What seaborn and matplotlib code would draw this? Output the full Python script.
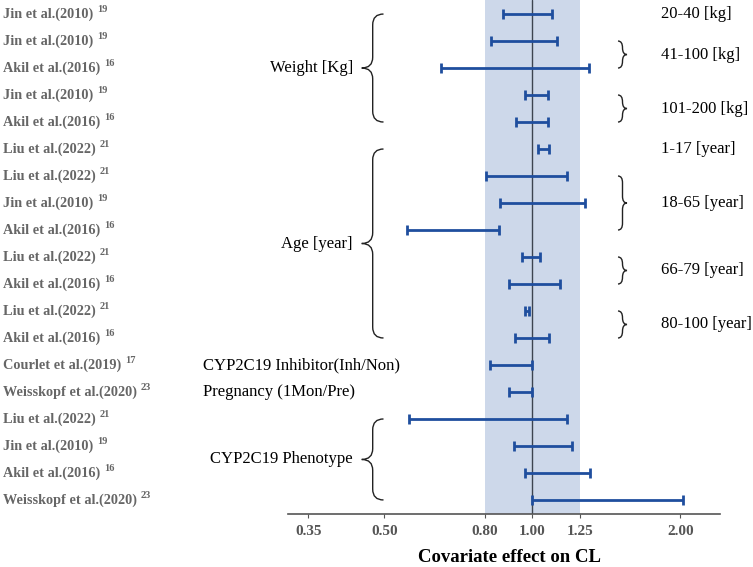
import numpy as np
import pandas as pd
import matplotlib
matplotlib.use("Agg")
import matplotlib.pyplot as plt
import matplotlib.transforms as mtransforms
from matplotlib.path import Path
from matplotlib.patches import PathPatch
import seaborn as sns

# data
studies = ["Jin et al.(2010)", "Jin et al.(2010)", "Akil et al.(2016)", "Jin et al.(2010)",
           "Akil et al.(2016)", "Liu et al.(2022)", "Liu et al.(2022)", "Jin et al.(2010)",
           "Akil et al.(2016)", "Liu et al.(2022)", "Akil et al.(2016)", "Liu et al.(2022)",
           "Akil et al.(2016)", "Courlet et al.(2019)", "Weisskopf et al.(2020)",
           "Liu et al.(2022)", "Jin et al.(2010)", "Akil et al.(2016)", "Weisskopf et al.(2020)"]
refs = ["19", "19", "16", "19", "16", "21", "21", "19", "16", "21", "16", "21", "16",
        "17", "23", "21", "19", "16", "23"]
lower = [0.870, 0.826, 0.653, 0.966, 0.928, 1.029, 0.807, 0.859, 0.556, 0.953,
         0.896, 0.966, 0.923, 0.822, 0.896, 0.562, 0.918, 0.966, 1.000]
upper = [1.097, 1.123, 1.302, 1.078, 1.078, 1.083, 1.177, 1.278, 0.857, 1.035,
         1.140, 0.986, 1.080, 1.000, 1.000, 1.175, 1.205, 1.311, 2.030]

tick_vals = [0.35, 0.50, 0.80, 1.00, 1.25, 2.00]
tick_labels = ["0.35", "0.50", "0.80", "1.00", "1.25", "2.00"]

# groups with a brace on the left: (label, first row, last row)
groups = [("Weight [Kg]", 0, 4), ("Age [year]", 5, 12), ("CYP2C19 Phenotype", 15, 18)]
single_groups = [("CYP2C19 Inhibitor(Inh/Non)", 13), ("Pregnancy (1Mon/Pre)", 14)]
# sub-levels on the right
levels = [("20-40 [kg]", 0, 0), ("41-100 [kg]", 1, 2), ("101-200 [kg]", 3, 4),
          ("1-17 [year]", 5, 5), ("18-65 [year]", 6, 8), ("66-79 [year]", 9, 10),
          ("80-100 [year]", 11, 12)]

df = pd.DataFrame({"study": studies, "ref": refs, "lo": lower, "hi": upper})
df["row"] = np.arange(len(df))

sns.set_theme(style="white")
plt.rcParams["font.family"] = ["Liberation Serif", "DejaVu Serif"]

W, H = 753, 567
fig = plt.figure(figsize=(W / 100, H / 100), dpi=100)
ax = fig.add_axes([288 / W, 53 / H, 432 / W, 514 / H])

bar_col = "#1f4e9e"
ax.axvspan(0.8, 1.25, color="#cdd8ea", zorder=0, lw=0)
ax.axvline(1.0, color="#3d4450", lw=1, zorder=1)

ax.errorbar(df["lo"], df["row"], xerr=[np.zeros(len(df)), df["hi"] - df["lo"]],
            fmt="none", ecolor=bar_col, elinewidth=2, capsize=3.6, capthick=2, zorder=3)

ax.set_xscale("log")
ax.set_xlim(0.3185, 2.409)
ax.set_ylim(18.52, -0.52)
ax.set_xticks(tick_vals)
ax.set_xticklabels(tick_labels)
ax.minorticks_off()
ax.set_yticks([])
ax.tick_params(axis="x", bottom=True, length=3, width=0.8, color="#555555", pad=5,
               labelsize=11, labelcolor="#555555")
for lab in ax.get_xticklabels():
    lab.set_fontweight("bold")
sns.despine(ax=ax, left=True, top=True, right=True)
ax.spines["bottom"].set_color("#555555")
ax.spines["bottom"].set_linewidth(1.2)
ax.set_xlabel("")

fig.text(510 / W, 1 - 557 / H, "Covariate effect on CL", ha="center", va="center",
         fontsize=13.5, fontweight="bold", color="black")

# x in figure pixels, y in data rows
trans = mtransforms.blended_transform_factory(
    mtransforms.Affine2D().scale(1 / W) + fig.transFigure, ax.transData)


def brace(x_tip, x_mid, x_end, y0, y1, r):
    ym = (y0 + y1) / 2
    verts = [(x_end, y0), (x_mid, y0), (x_mid, y0 + r),
             (x_mid, ym - r), (x_mid, ym), (x_tip, ym),
             (x_mid, ym), (x_mid, ym + r),
             (x_mid, y1 - r), (x_mid, y1), (x_end, y1)]
    codes = [Path.MOVETO, Path.CURVE3, Path.CURVE3,
             Path.LINETO, Path.CURVE3, Path.CURVE3,
             Path.CURVE3, Path.CURVE3,
             Path.LINETO, Path.CURVE3, Path.CURVE3]
    p = PathPatch(Path(verts, codes), transform=trans, fill=False, ec="#222222",
                  lw=1.0, clip_on=False)
    ax.add_patch(p)


for name, a, b in groups:
    brace(361.7, 372.7, 383.5, a, b, 0.4)
    ax.text(353, (a + b) / 2, name, transform=trans, ha="right", va="center",
            fontsize=12, color="black", clip_on=False)

for name, r in single_groups:
    ax.text(203, r, name, transform=trans, ha="left", va="center",
            fontsize=12, color="black", clip_on=False)

for name, a, b in levels:
    if b > a:
        brace(627, 622.5, 618, a, b, 0.25)
    ax.text(661, (a + b) / 2, name, transform=trans, ha="left", va="center",
            fontsize=12, color="black", clip_on=False)

for i, row in df.iterrows():
    t = ax.text(3, row["row"], row["study"], transform=trans, ha="left", va="center",
                fontsize=10.3, fontweight="bold", color="#666666", clip_on=False)
    ax.annotate(row["ref"], xy=(1, 0.5), xycoords=t, xytext=(2.5, 0),
                textcoords="offset points", ha="left", va="bottom",
                fontsize=7.5, fontweight="bold", color="#666666", annotation_clip=False)

fig.savefig("out.png", dpi=100)
